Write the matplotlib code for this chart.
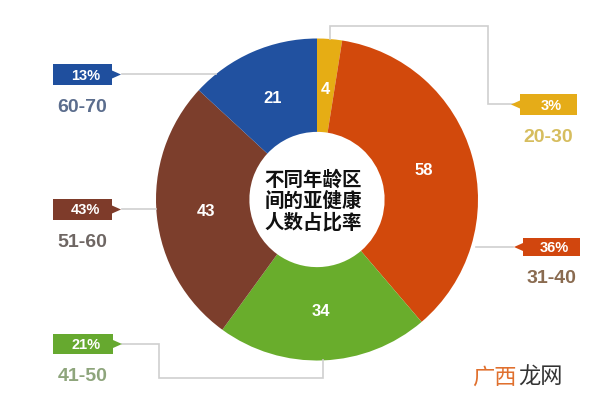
import matplotlib.pyplot as plt
from matplotlib.patches import Polygon

plt.rcParams['font.family'] = ['Noto Sans CJK SC', 'DejaVu Sans']

# data, clockwise from the top
ages = ['20-30', '31-40', '41-50', '51-60', '60-70']
counts = [4, 58, 34, 43, 21]
shares = ['3%', '36%', '21%', '43%', '13%']
colors = ['#E6AD14', '#D2490C', '#69AD2C', '#7C3E2C', '#2151A0']
tag_colors = ['#E5AC18', '#D1460E', '#66A92F', '#7E3B2A', '#1F4F9E']
text_colors = ['#D6BD5E', '#8A6B50', '#8EA57C', '#6E6663', '#5B6D8D']
title = '不同年龄区\n间的亚健康\n人数占比率'

# canvas in pixel units (y measured from the top of the picture)
W, H = 600, 406
fig = plt.figure(figsize=(6, 4.06), dpi=100)
ax = fig.add_axes([0, 0, 1, 1])

def py(y):
    return H - y

cx, cy, R = 317, 200.5, 161
ax.pie(counts, colors=colors, startangle=90, counterclock=False,
       center=(cx, py(cy)), radius=R, frame=True,
       labels=[str(c) for c in counts], labeldistance=0.69,
       wedgeprops=dict(width=R * 0.58, linewidth=0),
       textprops=dict(color='white', fontsize=12, fontweight='bold',
                      family=['Liberation Sans', 'DejaVu Sans'],
                      ha='center', va='center'))
ax.set_xlim(0, W)
ax.set_ylim(0, H)
ax.set_aspect('equal')
ax.axis('off')

ax.text(cx - 4, py(201), title, ha='center', va='center', fontsize=14,
        fontweight='bold', color='#111111', linespacing=1.12)

# tags: (left, top, right, bottom, arrow side, leader path)
tags = [
    (520, 95, 577, 116, 'left', [(513, 105), (488, 105), (488, 27), (330, 27), (330, 40)]),
    (523, 239, 580, 257, 'left', [(513, 248), (476, 248)]),
    (53, 335, 113, 355, 'right', [(122, 345), (159, 345), (159, 379), (323, 379), (323, 361)]),
    (53, 200, 112, 221, 'right', [(122, 210), (156, 210)]),
    (53, 65, 112, 86, 'right', [(122, 75), (216, 75)]),
]

for i, (l, t, r, b, side, path) in enumerate(tags):
    xs = [p[0] for p in path]
    ys = [py(p[1]) for p in path]
    ax.plot(xs, ys, color='#CFCFCF', lw=1.2, zorder=1,
            solid_joinstyle='miter')
    m = (t + b) / 2
    if side == 'right':
        pts = [(l, t), (r, t), (r, m - 4), (r + 9, m), (r, m + 4), (r, b), (l, b)]
    else:
        pts = [(l, t), (r, t), (r, b), (l, b), (l, m + 4), (l - 9, m), (l, m - 4)]
    ax.add_patch(Polygon([(x, py(y)) for x, y in pts], closed=True,
                         fc=tag_colors[i], ec='none', zorder=3))
    ax.text((l + r) / 2 + 3, py(m), shares[i], ha='center', va='center',
            color='white', fontsize=10.5, fontweight='bold',
            family=['Liberation Sans', 'DejaVu Sans'], zorder=4)
    ax.text((l + r) / 2, py(b + 22), ages[i], ha='center', va='center',
            color=text_colors[i], fontsize=14, fontweight='bold',
            family=['Liberation Sans', 'DejaVu Sans'])

# watermark
ax.text(472, py(377), '广西', ha='left', va='center', fontsize=16,
        color='#E0702E')
ax.text(518, py(377), '龙网', ha='left', va='center', fontsize=16,
        color='#333333')

fig.savefig('out.png', dpi=100)
